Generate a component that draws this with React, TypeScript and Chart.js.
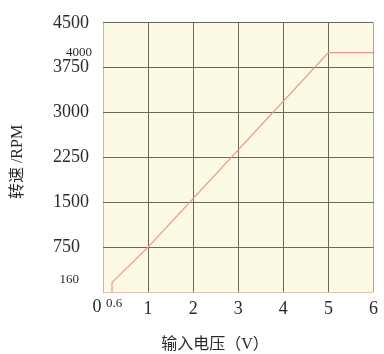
import React, { useEffect, useRef } from "react";
import { Chart, registerables } from "chart.js";

Chart.register(...registerables);

const seriesX = [0.2, 0.2, 1, 5, 6];
const seriesY = [0, 160, 750, 4000, 4000];
const xTickValues = [0, 1, 2, 3, 4, 5, 6];
const yTickValues = [0, 750, 1500, 2250, 3000, 3750, 4500];
const xTitle = "输入电压（V）";
const yTitle = "转速 /RPM";
const extraLabels = { origin: "0", startX: "0.6", startY: "160", maxY: "4000" };
const startXValue = 0.2;
const startYValue = 160;
const maxYValue = 4000;

const SERIF = "'Liberation Serif', 'DejaVu Serif', serif";
const TITLE_FONT = "'Liberation Serif', 'Noto Sans CJK SC', serif";

export default function App() {
  const ref = useRef<HTMLCanvasElement | null>(null);

  useEffect(() => {
    document.body.style.margin = "0";
    const canvas = ref.current;
    if (!canvas) return;

    const decor = {
      id: "decor",
      beforeDraw(chart: any) {
        const { ctx, chartArea } = chart;
        ctx.save();
        ctx.fillStyle = "#fcfae2";
        ctx.fillRect(chartArea.left, chartArea.top, chartArea.right - chartArea.left, chartArea.bottom - chartArea.top);
        ctx.restore();
      },
      afterDraw(chart: any) {
        const { ctx } = chart;
        const xs = chart.scales.x;
        const ys = chart.scales.y;
        ctx.save();
        ctx.fillStyle = "#2a2a2a";
        ctx.textBaseline = "middle";
        ctx.font = `18px ${SERIF}`;
        ctx.textAlign = "center";
        ctx.fillText(extraLabels.origin, xs.getPixelForValue(0) - 6, ys.bottom + 15);
        ctx.font = `13px ${SERIF}`;
        ctx.textAlign = "left";
        ctx.fillText(extraLabels.startX, xs.getPixelForValue(startXValue) - 6, ys.bottom + 12);
        ctx.textAlign = "right";
        ctx.fillText(extraLabels.startY, xs.left - 24, ys.getPixelForValue(startYValue) - 3);
        ctx.fillText(extraLabels.maxY, xs.left - 11, ys.getPixelForValue(maxYValue));
        ctx.font = `16px ${TITLE_FONT}`;
        ctx.textAlign = "center";
        ctx.fillText(xTitle, 215, 345);
        ctx.translate(18, 162);
        ctx.rotate(-Math.PI / 2);
        ctx.fillText(yTitle, 0, 0);
        ctx.restore();
      },
    };

    const chart = new Chart(canvas, {
      type: "line",
      data: {
        datasets: [
          {
            data: seriesX.map((x, i) => ({ x, y: seriesY[i] })),
            borderColor: "#e8958a",
            borderWidth: 1.2,
            pointRadius: 0,
            fill: false,
            tension: 0,
          },
        ],
      },
      options: {
        animation: false,
        responsive: false,
        maintainAspectRatio: false,
        layout: { padding: { left: 53, top: 18, right: 7, bottom: 0 } },
        plugins: { legend: { display: false }, tooltip: { enabled: false } },
        scales: {
          x: {
            type: "linear",
            min: 0,
            max: 6,
            afterBuildTicks: (s: any) => {
              s.ticks = xTickValues.map((v) => ({ value: v }));
            },
            afterFit: (s: any) => {
              s.height = 62;
            },
            border: { display: false },
            grid: {
              drawTicks: false,
              lineWidth: 1,
              color: (c: any) =>
                c.tick && c.tick.value === 0 ? "#c0c0b0" : c.tick && c.tick.value === 6 ? "#a8a89c" : "#6a6a5c",
            },
            ticks: {
              padding: 6,
              color: "#2a2a2a",
              font: { family: SERIF, size: 18 },
              callback: (v: any) => (v === 0 ? "" : String(v)),
              maxRotation: 0,
            },
          },
          y: {
            type: "linear",
            min: 0,
            max: 4500,
            afterBuildTicks: (s: any) => {
              s.ticks = yTickValues.map((v) => ({ value: v }));
            },
            afterFit: (s: any) => {
              s.width = 50;
            },
            border: { display: false },
            grid: {
              drawTicks: false,
              lineWidth: 1,
              color: (c: any) => (c.tick && c.tick.value === 0 ? "#e6c4b0" : "#6a6a5c"),
            },
            ticks: {
              crossAlign: "far",
              padding: 12,
              color: "#2a2a2a",
              font: { family: SERIF, size: 18 },
              callback: (v: any) => (v === 0 ? "" : String(v)),
            },
          },
        },
      },
      plugins: [decor],
    });

    return () => chart.destroy();
  }, []);

  return <canvas ref={ref} width={384} height={354} style={{ display: "block", width: 384, height: 354 }} />;
}
